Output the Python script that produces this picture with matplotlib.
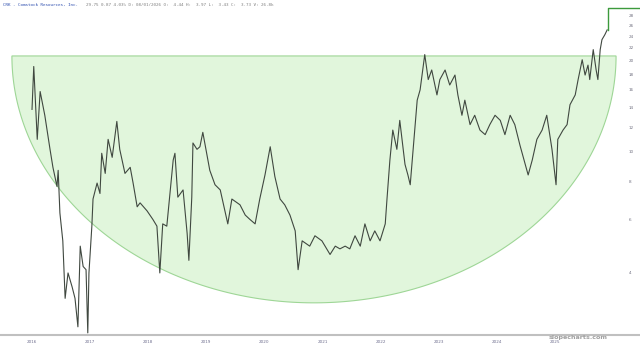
import numpy as np
import matplotlib
matplotlib.use("Agg")
import matplotlib.pyplot as plt
from matplotlib.patches import Polygon

# ---- data (decimal years, price) ----
years = [2016.00, 2016.03, 2016.09, 2016.14, 2016.22, 2016.31, 2016.36, 2016.43, 2016.45,
         2016.48, 2016.53, 2016.57, 2016.62, 2016.69, 2016.74, 2016.79, 2016.83, 2016.88,
         2016.93, 2016.96, 2016.98, 2017.03, 2017.05, 2017.12, 2017.17, 2017.20, 2017.26,
         2017.31, 2017.38, 2017.46, 2017.51, 2017.60, 2017.69, 2017.74, 2017.81, 2017.86,
         2017.98, 2018.08, 2018.15, 2018.20, 2018.25, 2018.32, 2018.38, 2018.43, 2018.46,
         2018.51, 2018.60, 2018.67, 2018.70, 2018.75, 2018.77, 2018.84, 2018.89, 2018.94,
         2019.06, 2019.15, 2019.24, 2019.32, 2019.37, 2019.44, 2019.58, 2019.67, 2019.75,
         2019.84, 2019.92, 2020.01, 2020.10, 2020.18, 2020.27, 2020.35, 2020.44, 2020.53,
         2020.58, 2020.65, 2020.78, 2020.87, 2020.99, 2021.13, 2021.22, 2021.30, 2021.39,
         2021.47, 2021.56, 2021.65, 2021.73, 2021.82, 2021.90, 2021.99, 2022.08, 2022.11,
         2022.16, 2022.21, 2022.28, 2022.33, 2022.42, 2022.47, 2022.51, 2022.56, 2022.63,
         2022.68, 2022.76, 2022.82, 2022.88, 2022.97, 2023.02, 2023.11, 2023.19, 2023.28,
         2023.33, 2023.40, 2023.45, 2023.54, 2023.62, 2023.71, 2023.80, 2023.88, 2023.97,
         2024.06, 2024.14, 2024.23, 2024.31, 2024.40, 2024.49, 2024.54, 2024.61, 2024.69,
         2024.78, 2024.86, 2024.95, 2025.02, 2025.05, 2025.14, 2025.21, 2025.26, 2025.35,
         2025.40, 2025.47, 2025.52, 2025.57, 2025.60, 2025.66, 2025.71, 2025.74, 2025.78,
         2025.81, 2025.86, 2025.90]
prices = [13.8, 19.1, 11.0, 15.8, 13.2, 10.2, 8.9, 7.7, 8.7,
          6.3, 5.1, 3.3, 4.0, 3.6, 3.3, 2.66, 4.9, 4.2,
          4.1, 2.54, 4.0, 5.7, 7.0, 7.9, 7.3, 9.9, 8.5,
          11.0, 9.6, 12.6, 10.2, 8.5, 8.9, 7.9, 6.6, 6.8,
          6.4, 6.0, 5.7, 4.0, 5.8, 5.7, 7.5, 9.4, 9.9,
          7.1, 7.5, 5.4, 4.4, 7.1, 10.7, 10.2, 10.4, 11.6,
          8.7, 7.8, 7.5, 6.4, 5.8, 7.0, 6.7, 6.2, 6.0,
          5.8, 7.0, 8.4, 10.4, 8.3, 7.0, 6.7, 6.2, 5.5,
          4.1, 5.1, 4.9, 5.3, 5.1, 4.6, 4.9, 4.8, 4.9,
          4.8, 5.3, 4.9, 5.8, 5.1, 5.5, 5.1, 5.8, 7.0,
          9.4, 11.8, 10.2, 12.7, 9.1, 8.4, 7.8, 10.2, 14.8,
          16.0, 20.9, 17.3, 18.6, 15.4, 17.3, 18.6, 16.6, 17.9,
          15.4, 13.2, 14.8, 12.3, 13.2, 11.8, 11.4, 12.3, 13.2,
          12.7, 11.4, 13.2, 12.3, 10.5, 9.1, 8.4, 9.4, 11.0,
          11.8, 13.2, 10.2, 7.8, 11.0, 11.8, 12.3, 14.3, 15.4,
          17.3, 20.1, 17.9, 19.3, 17.3, 21.7, 18.6, 17.3, 21.7,
          23.4, 24.3, 25.2]
last_year = 2025.91
last_price = 29.75

year_ticks = [2016, 2017, 2018, 2019, 2020, 2021, 2022, 2023, 2024, 2025]
price_ticks = [4, 6, 8, 10, 12, 14, 16, 18, 20, 22, 24, 26, 28]

title_name = "CRK - Comstock Resources, Inc."
title_rest = "29.75 0.87 4.03% D: 08/01/2026 O:  4.44 H:  3.97 L:  3.43 C:  3.73 V: 26.8k"

# ---- figure ----
W, H = 640, 347
fig = plt.figure(figsize=(W / 100, H / 100), dpi=100)
ax = fig.add_axes([0, 12 / H, 1, 335 / H])
ax.set_yscale("log")
ax.set_xlim(2015.449, 2026.465)
ax.set_ylim(2.50, 31.6)

# rounding-bottom half ellipse (axes fraction)
cx, cy, a, b = 0.4906, 0.833, 0.472, 0.737
t = np.linspace(np.pi, 2 * np.pi, 200)
pts = np.column_stack([cx + a * np.cos(t), cy + b * np.sin(t)])
ell = Polygon(pts, closed=True, transform=ax.transAxes, facecolor="#e1f6dc",
              edgecolor="#9ed696", linewidth=0.8, zorder=1)
ax.add_patch(ell)

ax.plot(years, prices, color="#404840", linewidth=0.8, zorder=3)
ax.plot([last_year, last_year, 2026.465], [prices[-1], last_price, last_price],
        color="#3c9a3c", linewidth=1.0, zorder=3)

ax.set_yticks(price_ticks)
ax.set_yticklabels([str(p) for p in price_ticks])
ax.yaxis.set_minor_formatter(matplotlib.ticker.NullFormatter())
ax.yaxis.set_minor_locator(matplotlib.ticker.NullLocator())
ax.yaxis.tick_right()
ax.tick_params(axis="y", length=0, pad=-8, labelsize=3, labelcolor="#707080")

ax.set_xticks(year_ticks)
ax.set_xticklabels([str(y) for y in year_ticks])
ax.tick_params(axis="x", length=0, pad=3.5, labelsize=3, labelcolor="#707090")

for s in ["top", "left", "right"]:
    ax.spines[s].set_visible(False)
ax.spines["bottom"].set_color("#c0c0c0")
ax.spines["bottom"].set_linewidth(1.5)

fig.text(3 / W, 1 - 5 / H, title_name, fontsize=3.1, family="DejaVu Sans Mono",
         color="#3050b0", va="center", ha="left")
fig.text(86 / W, 1 - 5 / H, title_rest, fontsize=3.1, family="DejaVu Sans Mono",
         color="#808080", va="center", ha="left")
fig.text(608 / W, 1 - 337 / H, "slopecharts.com", fontsize=4.6, fontweight="bold",
         color="#a0a0a0", va="center", ha="right")

fig.savefig("out.png", dpi=100)
